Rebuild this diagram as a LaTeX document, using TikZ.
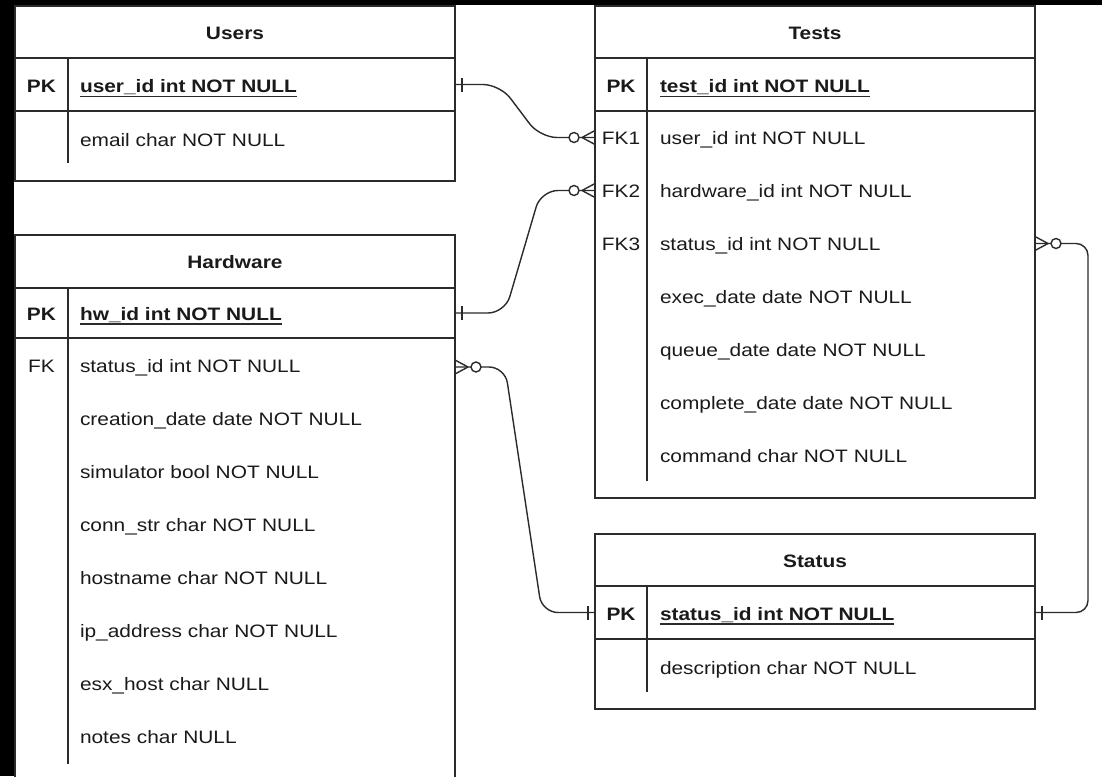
\documentclass[tikz,border=0pt]{standalone}
\usepackage{fontspec}
\setmainfont{Liberation Sans}[FakeStretch=1.16]
\usetikzlibrary{calc}
\definecolor{ink}{HTML}{1A1A1A}
\definecolor{edge}{HTML}{2B2B2B}

\tikzset{
  % single bar: "exactly one" end
  onebar/.pic={\draw[conn] (7,-7) -- (7,7);},
  % circle plus crow's foot: "zero or many" end
  zeromany/.pic={
    \draw[conn] (13,0) -- (0,-7) (13,0) -- (0,7);
    \draw[conn, fill=white] (21,0) circle (5pt);
  }
}

\begin{document}
\begin{tikzpicture}[x=1pt, y=-1pt,
  every node/.style={inner sep=0pt, outer sep=0pt, text=ink,
                     font=\fontsize{18}{21}\selectfont},
  frame/.style={draw=edge, line width=1.6pt},
  conn/.style={draw=edge, line width=1.4pt},
  title/.style={anchor=base, font=\fontsize{18}{21}\selectfont\bfseries},
  keytext/.style={anchor=base},
  pktext/.style={anchor=base, font=\fontsize{18}{21}\selectfont\bfseries},
  field/.style={anchor=base west},
  pkfield/.style={anchor=base west, font=\fontsize{18}{21}\selectfont\bfseries},
  rowbox/.style={minimum width=440pt, minimum height=50pt},
]
\useasboundingbox (0,0) rectangle (1102,776);
\clip (0,0) rectangle (1102,776);
\fill[black] (0,0) rectangle (1102,776);
\fill[white] (14,5) rectangle (1102,776);

% ---------- Users ----------
\draw[frame] (15,6) rectangle (455,181);
\draw[frame] (15,58) -- (455,58) (15,111) -- (455,111);
\draw[frame] (68,58) -- (68,163);
\node[title] (users-t) at (235,40) {Users};
\node[pktext] (users-pkk) at (41.5,92.5) {PK};
\node[pkfield] (users-pkv) at (80,92.5) {user\_id int NOT NULL};
\node[field] (users-email) at (80,146.5) {email char NOT NULL};
\node[rowbox] (users-pk) at (235,84.5) {};

% ---------- Hardware ----------
\draw[frame] (15,235) rectangle (455,800);
\draw[frame] (15,288) -- (455,288) (15,338) -- (455,338);
\draw[frame] (68,288) -- (68,763.5);
\node[title] (hw-t) at (235,268.5) {Hardware};
\node[pktext] (hw-pkk) at (41.5,320) {PK};
\node[pkfield] (hw-pkv) at (80,320) {hw\_id int NOT NULL};
\node[keytext] (hw-fkk) at (41.5,372) {FK};
\node[field] (hw-f1) at (80,372) {status\_id int NOT NULL};
\node[field] (hw-f2) at (80,425) {creation\_date date NOT NULL};
\node[field] (hw-f3) at (80,478) {simulator bool NOT NULL};
\node[field] (hw-f4) at (80,531) {conn\_str char NOT NULL};
\node[field] (hw-f5) at (80,584) {hostname char NOT NULL};
\node[field] (hw-f6) at (80,637) {ip\_address char NOT NULL};
\node[field] (hw-f7) at (80,690) {esx\_host char NULL};
\node[field] (hw-f8) at (80,743) {notes char NULL};
\node[rowbox] (hw-pk) at (235,313) {};
\node[rowbox] (hw-fk) at (235,367) {};

% ---------- Tests ----------
\draw[frame] (595,6) rectangle (1035,498);
\draw[frame] (595,58) -- (1035,58) (595,111) -- (1035,111);
\draw[frame] (647,58) -- (647,481);
\node[title] (tests-t) at (815,40) {Tests};
\node[pktext] (tests-pkk) at (621,92.5) {PK};
\node[pkfield] (tests-pkv) at (660,92.5) {test\_id int NOT NULL};
\node[keytext] (tests-k1) at (621,144) {FK1};
\node[keytext] (tests-k2) at (621,197) {FK2};
\node[keytext] (tests-k3) at (621,250) {FK3};
\node[field] (tests-f1) at (660,144) {user\_id int NOT NULL};
\node[field] (tests-f2) at (660,197) {hardware\_id int NOT NULL};
\node[field] (tests-f3) at (660,250) {status\_id int NOT NULL};
\node[field] (tests-f4) at (660,303) {exec\_date date NOT NULL};
\node[field] (tests-f5) at (660,356) {queue\_date date NOT NULL};
\node[field] (tests-f6) at (660,409) {complete\_date date NOT NULL};
\node[field] (tests-f7) at (660,462) {command char NOT NULL};
\node[rowbox] (tests-fk1) at (815,137.5) {};
\node[rowbox] (tests-fk2) at (815,190.5) {};
\node[rowbox] (tests-fk3) at (815,243.5) {};

% ---------- Status ----------
\draw[frame] (595,534) rectangle (1035,709);
\draw[frame] (595,586) -- (1035,586) (595,639) -- (1035,639);
\draw[frame] (647,586) -- (647,692);
\node[title] (status-t) at (815,567.5) {Status};
\node[pktext] (status-pkk) at (621,620) {PK};
\node[pkfield] (status-pkv) at (660,620) {status\_id int NOT NULL};
\node[field] (status-desc) at (660,674) {description char NOT NULL};
\node[rowbox] (status-pk) at (815,612.5) {};

% primary key underlines
\foreach \n in {users-pkv, hw-pkv, tests-pkv, status-pkv}
  \draw[conn] ([yshift=-4pt]\n.base west) -- ([yshift=-4pt]\n.base east);

% ---------- relationships ----------
\draw[conn, rounded corners=17pt] (users-pk.east) -- ++(45,0)
  -- ([xshift=-55pt]tests-fk1.west) -- (tests-fk1.west);
\draw[conn, rounded corners=17pt] (hw-pk.east) -- ++(50,0)
  -- ([xshift=-54pt]tests-fk2.west) -- (tests-fk2.west);
\draw[conn, rounded corners=16pt] (hw-fk.east) -- ++(50,0)
  -- ([xshift=-53pt]status-pk.west) -- (status-pk.west);
\draw[conn, rounded corners=12pt] (tests-fk3.east) -- ++(53,0)
  |- (status-pk.east);

\pic at (users-pk.east) {onebar};
\pic at (hw-pk.east) {onebar};
\pic[rotate=180] at (status-pk.west) {onebar};
\pic at (status-pk.east) {onebar};
\pic[rotate=180] at (tests-fk1.west) {zeromany};
\pic[rotate=180] at (tests-fk2.west) {zeromany};
\pic at (hw-fk.east) {zeromany};
\pic at (tests-fk3.east) {zeromany};
\end{tikzpicture}
\end{document}
